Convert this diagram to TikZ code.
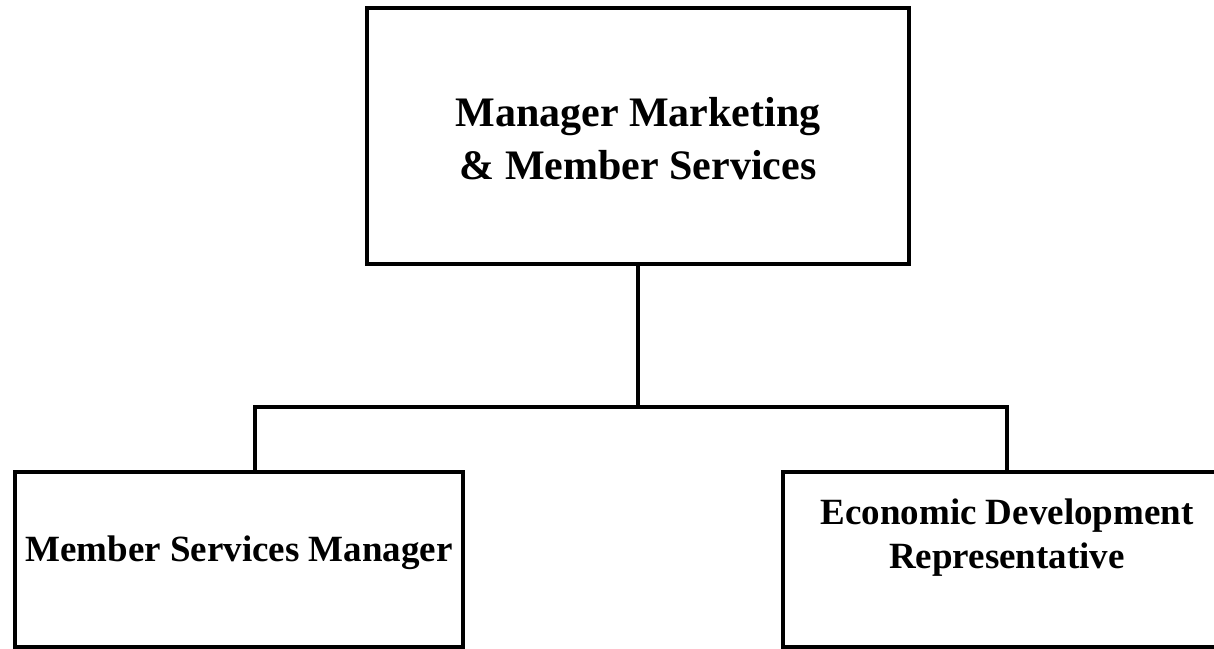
\documentclass[tikz,border=0pt]{standalone}
\usepackage{fontspec}
\setmainfont{Liberation Serif}
\usetikzlibrary{positioning}

\begin{document}
\begin{tikzpicture}[x=1pt, y=-1pt,
                    box/.style={rectangle, draw=black, line width=4pt, inner sep=0pt},
                    toptext/.style={font=\fontsize{42}{53}\selectfont\bfseries, align=center},
                    subtext/.style={font=\fontsize{37}{44}\selectfont\bfseries, align=center},
                    orgline/.style={line width=4pt},
                ]
                    \useasboundingbox (0,0) rectangle (1214,648);

                    %Nodes
                    \node[box, minimum width=542pt, minimum height=256pt](mgr) at (638,136) {};
                    \node[toptext](mgrtext) at ([yshift=-3pt]mgr.center) {Manager Marketing\\ \& Member Services};
                    \node[box, minimum width=448pt, minimum height=175pt](msm) at (239,559.5) {};
                    \node[subtext](msmtext) at ([yshift=7pt]msm.center) {Member Services Manager};
                    \node[box, minimum width=448pt, minimum height=175pt](edr) at (1007,559.5) {};
                    \node[subtext](edrtext) at ([yshift=22pt]edr.center) {Economic Development\\Representative};
                    \coordinate (bus) at (638,407);
                    \coordinate (msmdrop) at (255,472);

                    %Lines
                    \draw[orgline](mgr.south) -- (bus);
                    \draw[orgline](msmdrop) |- (bus) -| (edr.north);
                \end{tikzpicture}
\end{document}
